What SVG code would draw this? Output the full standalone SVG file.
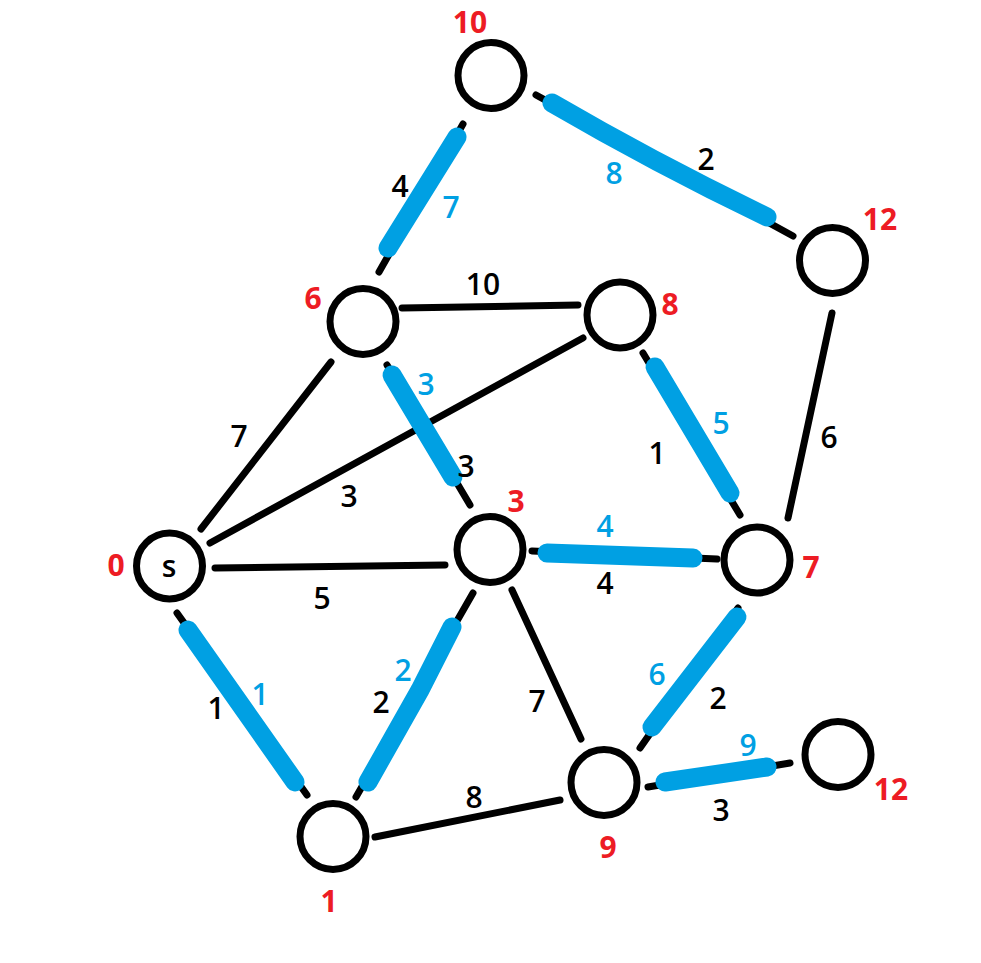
<svg xmlns="http://www.w3.org/2000/svg" width="981" height="963" viewBox="0 0 981 963">
<style>
.node circle{fill:#fff;stroke:#000;stroke-width:7}
.e{stroke:#000;stroke-width:7;stroke-linecap:round;fill:none}
.b{stroke:#00A0E3;stroke-width:19;stroke-linecap:round;fill:none}
text{font-family:"Open Sans","Noto Sans","Liberation Sans",sans-serif;font-size:30px;font-weight:600;text-anchor:middle}
.r{fill:#ED1C24;font-weight:700}
.k{fill:#000}
.c{fill:#00A0E3}
</style>
<rect width="981" height="963" fill="#fff"/>
<g id="connectors">
<line class="e" x1="201" y1="529" x2="331" y2="362"/>
<line class="e" x1="210" y1="543" x2="583" y2="338"/>
<line class="e" x1="215" y1="568" x2="445" y2="565"/>
<line class="e" x1="177" y1="613" x2="307" y2="795"/>
<line class="b" x1="188" y1="630" x2="295" y2="782"/>
<line class="e" x1="356" y1="797" x2="473" y2="593"/>
<path class="b" d="M368 782 L420 690 L452 627"/>
<line class="e" x1="375" y1="837" x2="560" y2="800"/>
<line class="e" x1="512" y1="590" x2="581" y2="739"/>
<line class="e" x1="532" y1="551" x2="717" y2="559"/>
<line class="b" x1="547" y1="553" x2="693" y2="558"/>
<line class="e" x1="387" y1="365" x2="470" y2="505"/>
<line class="b" x1="392" y1="375" x2="453" y2="477"/>
<line class="e" x1="402" y1="308" x2="578" y2="305"/>
<line class="e" x1="379" y1="272" x2="463" y2="124"/>
<line class="b" x1="388" y1="248" x2="457" y2="137"/>
<line class="e" x1="536" y1="95" x2="793" y2="236"/>
<path class="b" d="M552 103 Q655 163 767 217"/>
<line class="e" x1="643" y1="353" x2="740" y2="515"/>
<line class="b" x1="655" y1="367" x2="730" y2="493"/>
<line class="e" x1="832" y1="313" x2="788" y2="518"/>
<line class="e" x1="738" y1="608" x2="640" y2="748"/>
<line class="b" x1="737" y1="617" x2="652" y2="727"/>
<line class="e" x1="648" y1="787" x2="790" y2="763"/>
<line class="b" x1="665" y1="782" x2="767" y2="767"/>
</g>
<g id="node-s" class="node"><circle cx="169.5" cy="566" r="33"/><text class="k" x="169" y="577">s</text><text class="r" x="116" y="576">0</text></g>
<g id="node-1" class="node"><circle cx="333" cy="836.5" r="33"/><text class="r" x="329" y="912">1</text></g>
<g id="node-3" class="node"><circle cx="490" cy="549.5" r="33"/><text class="r" x="516" y="512">3</text></g>
<g id="node-6" class="node"><circle cx="363" cy="321.5" r="33"/><text class="r" x="313" y="309">6</text></g>
<g id="node-8" class="node"><circle cx="620" cy="315" r="33"/><text class="r" x="670" y="315">8</text></g>
<g id="node-10" class="node"><circle cx="491" cy="75.5" r="33"/><text class="r" x="470" y="33">10</text></g>
<g id="node-12a" class="node"><circle cx="832.5" cy="260.5" r="33"/><text class="r" x="880" y="230">12</text></g>
<g id="node-7" class="node"><circle cx="757" cy="560" r="33"/><text class="r" x="811" y="578">7</text></g>
<g id="node-9" class="node"><circle cx="604" cy="782.5" r="33"/><text class="r" x="608" y="858">9</text></g>
<g id="node-12b" class="node"><circle cx="838" cy="754.5" r="33"/><text class="r" x="891" y="800">12</text></g>
<g id="labels">
<text class="k" x="239" y="447">7</text>
<text class="k" x="349" y="507">3</text>
<text class="k" x="322" y="609">5</text>
<text class="k" x="216" y="719">1</text>
<text class="c" x="260" y="705">1</text>
<text class="k" x="381" y="713">2</text>
<text class="c" x="403" y="681">2</text>
<text class="k" x="474" y="808">8</text>
<text class="k" x="537" y="712">7</text>
<text class="c" x="605" y="537">4</text>
<text class="k" x="605" y="594">4</text>
<text class="c" x="426" y="395">3</text>
<text class="k" x="466" y="477">3</text>
<text class="k" x="483" y="295">10</text>
<text class="k" x="400" y="197">4</text>
<text class="c" x="451" y="218">7</text>
<text class="c" x="614" y="184">8</text>
<text class="k" x="706" y="170">2</text>
<text class="k" x="657" y="464">1</text>
<text class="c" x="721" y="434">5</text>
<text class="k" x="829" y="448">6</text>
<text class="c" x="657" y="685">6</text>
<text class="k" x="718" y="709">2</text>
<text class="c" x="748" y="756">9</text>
<text class="k" x="721" y="821">3</text>
</g>
</svg>
